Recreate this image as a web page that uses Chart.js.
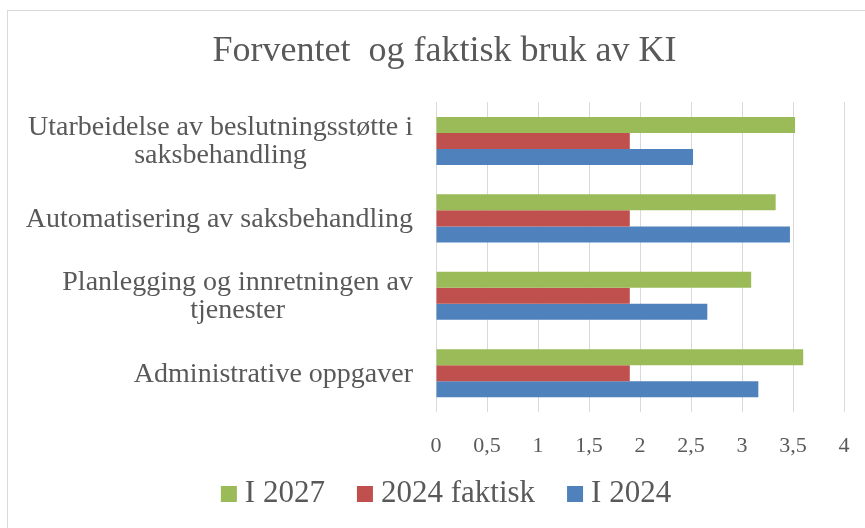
<!DOCTYPE html>
<html>
<head>
<meta charset="utf-8">
<script src="https://cdn.jsdelivr.net/npm/chart.js@4.4.0/dist/chart.umd.min.js"></script>
<style>
 html,body{margin:0;padding:0;background:#fff;overflow:hidden;}
 #frame{position:absolute;left:7px;top:10px;width:900px;height:600px;border-left:1px solid #d9d9d9;border-top:1px solid #d9d9d9;}
 #wrap{position:absolute;left:0;top:0;width:865px;height:528px;}
</style>
</head>
<body>
<div id="frame"></div>
<div id="wrap"><canvas id="chart"></canvas></div>
<script>
// categories, top to bottom
let categories = [
 ["Utarbeidelse av beslutningsstøtte i","saksbehandling"],
 ["Automatisering av saksbehandling"],
 ["Planlegging og innretningen av","tjenester"],
 ["Administrative oppgaver"]
];
let seriesNames = ["I 2027","2024 faktisk","I 2024"];
let i2027 = [3.52, 3.33, 3.09, 3.60];
let faktisk2024 = [1.9, 1.9, 1.9, 1.9];
let i2024 = [2.52, 3.47, 2.66, 3.16];
let xTicks = [0,0.5,1,1.5,2,2.5,3,3.5,4];

let colors = ["#9BBB59","#C0504D","#4F81BD"];
let textColor = "#595959";
let serif = "'Liberation Serif', 'Times New Roman', serif";

/* ---------- y labels: block right aligned, lines centered ---------- */
let yLabels = {
 id:"yLabels",
 afterDraw(c){
  let ctx=c.ctx, y=c.scales.y;
  ctx.save();
  ctx.font="28px "+serif;
  ctx.fillStyle=textColor;
  ctx.textAlign="center";
  ctx.textBaseline="middle";
  categories.forEach((lines,i)=>{
   let w=Math.max(...lines.map(l=>ctx.measureText(l).width));
   let cx=413-w/2;
   let cy=y.getPixelForValue(i)+1;
   let lh=28;
   lines.forEach((l,k)=>{
    ctx.fillText(l,cx,cy+(k-(lines.length-1)/2)*lh);
   });
  });
  ctx.restore();
 }
};

/* ---------- legend ---------- */
let legend = {
 id:"bottomLegend",
 afterDraw(c){
  let ctx=c.ctx;
  ctx.save();
  ctx.font="31px "+serif;
  ctx.textBaseline="middle";
  ctx.textAlign="left";
  let items=c.data.datasets.map(d=>({t:d.label,col:d.backgroundColor,w:ctx.measureText(d.label).width}));
  let total=items.reduce((s,it)=>s+16+8+it.w,0)+32*(items.length-1);
  let x=446-total/2, cy=494;
  items.forEach(it=>{
   ctx.fillStyle=it.col;
   ctx.fillRect(x,cy-8,16,16);
   ctx.fillStyle=textColor;
   ctx.fillText(it.t,x+24,cy);
   x+=16+8+it.w+32;
  });
  ctx.restore();
 }
};

new Chart(document.getElementById("chart"),{
 type:"bar",
 data:{
  labels:categories.map(l=>l.join(" ")),
  datasets:[
   {label:seriesNames[0],data:i2027,backgroundColor:colors[0]},
   {label:seriesNames[1],data:faktisk2024,backgroundColor:colors[1]},
   {label:seriesNames[2],data:i2024,backgroundColor:colors[2]}
  ]
 },
 options:{
  indexAxis:"y",
  responsive:true,
  maintainAspectRatio:false,
  animation:false,
  layout:{padding:{left:45,right:21,top:0,bottom:66}},
  datasets:{bar:{categoryPercentage:0.62,barPercentage:1,borderWidth:0}},
  plugins:{
   legend:{display:false},
   tooltip:{enabled:false},
   title:{
    display:true,
    text:"Forventet  og faktisk bruk av KI",
    color:textColor,
    font:{family:serif,size:36,weight:"normal"},
    padding:{top:30,bottom:29}
   }
  },
  scales:{
   x:{
    min:0,max:4,
    afterBuildTicks(s){ s.ticks=xTicks.map(v=>({value:v})); },
    afterFit(s){ s.height=50; s.paddingLeft=0; s.paddingRight=0; },
    grid:{color:"#d9d9d9",lineWidth:1,drawTicks:false},
    border:{display:false},
    ticks:{
     color:textColor,
     font:{family:serif,size:22},
     padding:21,
     callback:v=>String(v).replace(".",",")
    }
   },
   y:{
    afterFit(s){ s.width=391; },
    grid:{display:false},
    border:{display:false},
    ticks:{display:false}
   }
  }
 },
 plugins:[yLabels,legend]
});
</script>
</body>
</html>
